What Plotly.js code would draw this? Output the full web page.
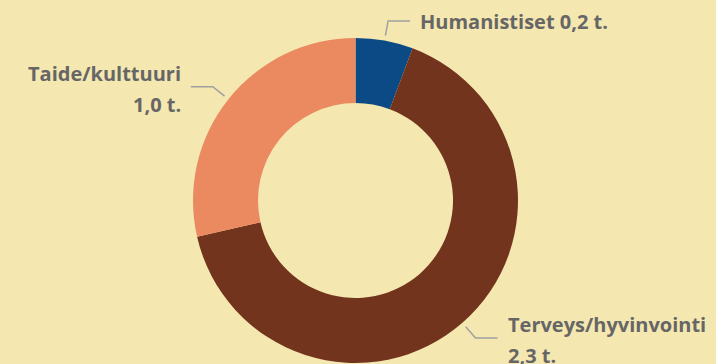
<!DOCTYPE html>
<html>
<head>
<meta charset="utf-8">
<script src="https://cdn.plot.ly/plotly-3.0.1.min.js"></script>
<style>
  html, body { margin: 0; padding: 0; background: #F5E7B0; }
  #chart { width: 716px; height: 364px; }
</style>
</head>
<body>
<div id="chart"></div>
<script>
// ---- data ----
const categories = ['Humanistiset', 'Terveys/hyvinvointi', 'Taide/kulttuuri'];
const values = [0.2, 2.3, 1.0];
const unit = 't.';
const twoLineLabel = [false, true, true];
const colors = ['#0B4A84', '#73341E', '#EB8A60'];

// ---- layout constants ----
const W = 716, H = 364;
const CX = 355.5, CY = 200.5, R = 162.5;
const BG = '#F5E7B0';
const TEXT = '#666666';
const LINE = '#A0A0A0';
const FONT = {family: '"Open Sans", "Noto Sans", sans-serif', size: 20, color: TEXT, weight: 700};

function fmt(v) { return v.toFixed(1).replace('.', ',') + ' ' + unit; }
const px = x => x / W;
const py = y => 1 - y / H;

const total = values.reduce((a, b) => a + b, 0);
const shapes = [];
const annotations = [];
let cum = 0;
values.forEach((v, i) => {
  const mid = (cum + v / 2) / total * 2 * Math.PI;
  cum += v;
  const sx = Math.sin(mid), sy = -Math.cos(mid);
  const r1 = R + 5, r2 = R + 20;
  const x1 = CX + r1 * sx, y1 = CY + r1 * sy;
  const x2 = CX + r2 * sx, y2 = CY + r2 * sy;
  const dir = sx >= 0 ? 1 : -1;
  const x3 = x2 + dir * 22;
  shapes.push({
    type: 'path', xref: 'paper', yref: 'paper',
    path: `M ${px(x1)} ${py(y1)} L ${px(x2)} ${py(y2)} L ${px(x3)} ${py(y2)}`,
    line: {color: LINE, width: 1.5}
  });
  const tx = x3 + dir * 8;
  const anchor = dir > 0 ? 'left' : 'right';
  if (twoLineLabel[i]) {
    annotations.push({xref: 'paper', yref: 'paper', x: px(tx), y: py(y2 - 13), xanchor: anchor, yanchor: 'middle',
      text: '<b>' + categories[i] + '</b>', showarrow: false, font: FONT, align: anchor});
    annotations.push({xref: 'paper', yref: 'paper', x: px(tx), y: py(y2 + 18), xanchor: anchor, yanchor: 'middle',
      text: '<b>' + fmt(v) + '</b>', showarrow: false, font: FONT, align: anchor});
  } else {
    annotations.push({xref: 'paper', yref: 'paper', x: px(tx), y: py(y2 + 1), xanchor: anchor, yanchor: 'middle',
      text: '<b>' + categories[i] + ' ' + fmt(v) + '</b>', showarrow: false, font: FONT, align: anchor});
  }
});

const data = [{
  type: 'pie',
  labels: categories,
  values: values,
  hole: 0.6,
  sort: false,
  direction: 'clockwise',
  rotation: 0,
  marker: {colors: colors, line: {width: 0}},
  textinfo: 'none',
  hoverinfo: 'label+value',
  showlegend: false,
  domain: {x: [px(CX - R), px(CX + R)], y: [py(CY + R), py(CY - R)]}
}];

const layout = {
  width: W, height: H,
  margin: {l: 0, r: 0, t: 0, b: 0},
  paper_bgcolor: BG,
  plot_bgcolor: BG,
  showlegend: false,
  shapes: shapes,
  annotations: annotations
};

Plotly.newPlot('chart', data, layout, {displayModeBar: false, staticPlot: true});
</script>
</body>
</html>
